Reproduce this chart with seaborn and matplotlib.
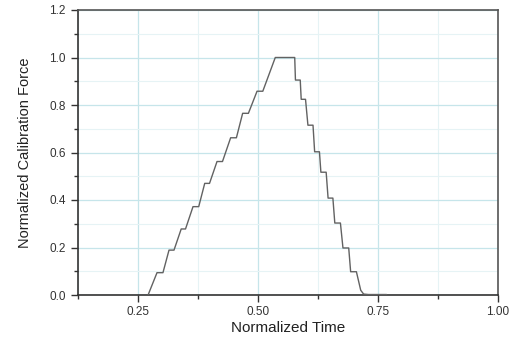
import matplotlib
matplotlib.use("Agg")
import matplotlib.pyplot as plt
import seaborn as sns
import pandas as pd
from matplotlib.ticker import MultipleLocator, FormatStrFormatter

time = [0.271, 0.2896, 0.302, 0.3146, 0.325, 0.340, 0.349, 0.3646, 0.3765,
        0.389, 0.399, 0.4146, 0.426, 0.443, 0.455, 0.468, 0.480, 0.498, 0.510,
        0.536, 0.5765, 0.578, 0.588, 0.590, 0.599, 0.604, 0.6146, 0.618, 0.628,
        0.631, 0.642, 0.646, 0.656, 0.660, 0.6717, 0.677, 0.689, 0.693, 0.705,
        0.714, 0.720, 0.730, 0.768]
force = [0.0, 0.094, 0.094, 0.189, 0.189, 0.278, 0.278, 0.372, 0.372,
         0.470, 0.470, 0.562, 0.562, 0.662, 0.662, 0.765, 0.765, 0.858, 0.858,
         1.0, 1.0, 0.905, 0.905, 0.824, 0.824, 0.715, 0.715, 0.603, 0.603,
         0.517, 0.517, 0.408, 0.408, 0.303, 0.303, 0.198, 0.198, 0.098, 0.098,
         0.02, 0.004, 0.002, 0.002]

x_ticks = [0.25, 0.50, 0.75, 1.00]
y_ticks = [0.0, 0.2, 0.4, 0.6, 0.8, 1.0, 1.2]

sns.set_style("white")
plt.rcParams['font.family'] = ['Liberation Sans', 'DejaVu Sans']

df = pd.DataFrame({"Normalized Time": time, "Normalized Calibration Force": force})

fig = plt.figure(figsize=(5.2, 3.37), dpi=100)
ax = fig.add_axes([78/520, 1-295/337, 420/520, 285/337])

sns.lineplot(data=df, x="Normalized Time", y="Normalized Calibration Force",
             sort=False, estimator=None, color="#626262", linewidth=1.0, ax=ax,
             zorder=3)

ax.set_xlim(0.125, 1.0)
ax.set_ylim(0.0, 1.2)
ax.set_xticks(x_ticks)
ax.set_yticks(y_ticks)
ax.xaxis.set_major_formatter(FormatStrFormatter('%.2f'))
ax.yaxis.set_major_formatter(FormatStrFormatter('%.1f'))
ax.xaxis.set_minor_locator(MultipleLocator(0.125))
ax.yaxis.set_minor_locator(MultipleLocator(0.1))

ax.grid(which='major', color='#c6e5ea', linewidth=0.9, zorder=0)
ax.grid(which='minor', color='#e6f3f5', linewidth=0.8, zorder=0)
ax.set_axisbelow(True)

ax.tick_params(which='major', direction='out', length=5, width=1.0,
               color='#333333', labelsize=8.5, labelcolor='#333333',
               bottom=True, left=True, top=False, right=False)
ax.tick_params(axis='x', which='major', pad=3)
ax.tick_params(axis='y', which='major', pad=4)
ax.tick_params(which='minor', direction='out', length=3, width=1.0,
               color='#333333', bottom=True, left=True, top=False, right=False)

for s in ax.spines.values():
    s.set_visible(True)
    s.set_color('#333333')
    s.set_linewidth(1.2)
ax.spines['top'].set_color('#555555')
ax.spines['right'].set_color('#555555')

ax.set_xlabel("Normalized Time", fontsize=11, color='#222222', labelpad=2)
ax.set_ylabel("Normalized Calibration Force", fontsize=10.5, color='#222222', labelpad=12)

fig.savefig("out.png", dpi=100)
